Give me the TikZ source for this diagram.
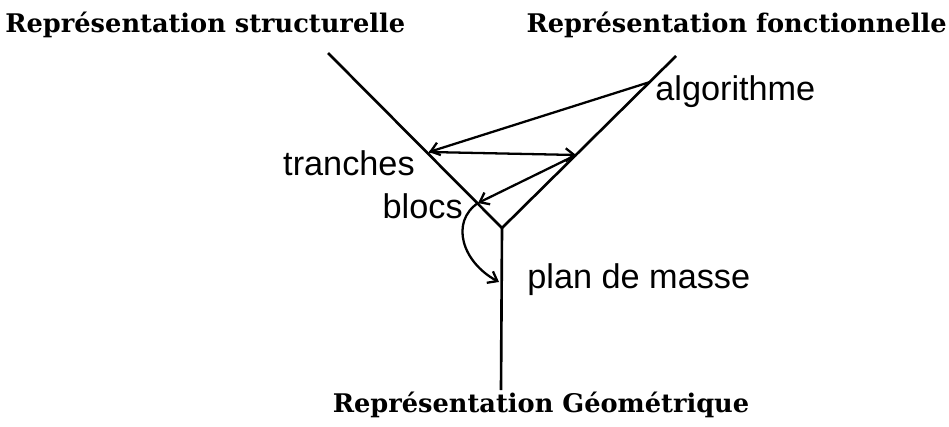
\documentclass[tikz,border=0pt]{standalone}
\usepackage{fontspec}
\setmainfont{Liberation Sans}
\newfontfamily\titlefont{DejaVu Serif}
\usetikzlibrary{arrows.meta}

\begin{document}
\begin{tikzpicture}[
  x=0.02cm, y=-0.02cm,
  every node/.style={inner sep=0pt},
  axis/.style={line width=1.5pt},
  arr/.style={-{Straight Barb[length=1.7mm,width=2.6mm]}, line width=1.3pt},
  lbl/.style={font=\fontsize{19.5}{22}\selectfont},
  title/.style={font=\titlefont\bfseries\fontsize{14.6}{17}\selectfont},
]
\useasboundingbox (0,0) rectangle (949,426);
\coordinate (struct) at (328,53);
\coordinate (fonct) at (676,56);
\coordinate (junc) at (502,228);
\coordinate (geom) at (501,390);
\coordinate (algo) at (650,82);
\coordinate (trn) at (429,152);
\coordinate (mid) at (576,155);
\coordinate (blc) at (478,203);
\coordinate (plan) at (499,282);
\node[title, anchor=base west] (tstruct) at (5,32) {Représentation structurelle};
\node[title, anchor=base east] (tfonct) at (947,32) {Représentation fonctionnelle};
\node[title, anchor=base] (tgeom) at (541,412) {Représentation Géométrique};
\node[lbl, anchor=base west] (lalgo) at (655,100) {algorithme};
\node[lbl, anchor=base east] (ltrn) at (415,175) {tranches};
\node[lbl, anchor=base east] (lblc) at (463,218) {blocs};
\node[lbl, anchor=base west] (lplan) at (527,288) {plan de masse};
\draw[axis] (struct) -- (junc) -- (fonct);
\draw[axis] (junc) -- (geom);
\draw[arr] (algo) -- (trn);
\draw[arr] (trn) -- (mid);
\draw[arr] (mid) -- (blc);
\draw[arr] (blc) .. controls (450,222) and (462,262) .. (plan);
\end{tikzpicture}
\end{document}
